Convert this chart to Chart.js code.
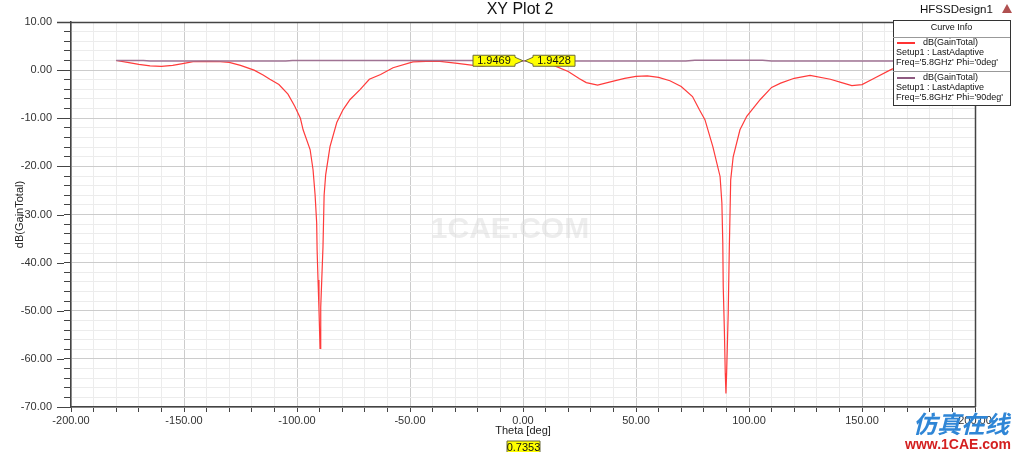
<!DOCTYPE html>
<html>
<head>
<meta charset="utf-8">
<title>XY Plot 2</title>
<script src="https://cdn.jsdelivr.net/npm/chart.js@4"></script>
<style>
    html, body { margin: 0; padding: 0; background: #fff; }
    #wrap { width: 1024px; height: 452px; position: relative; }
</style>
</head>
<body>
<div id="wrap"><canvas id="xyPlot"></canvas></div>
<script>
// Phi = 0deg curve (red)
const thetaPhi0 = [-180, -175, -170, -165, -160, -155, -150, -146, -140, -134, -130, -125, -119, -115, -112, -108, -104, -101, -98.5, -97.3, -94.2, -92.9, -92, -91.3, -91.1, -90.7, -90.3, -89.8, -89.5, -88.5, -88, -87.3, -85.4, -82.4, -79.6, -76.5, -72, -68, -63, -57.5, -48.7, -40, -36.7, -29, -22, -18, -14.6, -8, -4.4, 0,
    5, 10, 13, 20, 25, 28, 33, 40, 45, 50, 55, 60, 65, 70, 75, 78, 80.5, 84, 87.2, 88, 88.4, 88.6, 89.1, 89.5, 89.8, 90.1, 90.8, 91.3, 91.9, 93, 96, 99, 105, 110, 114, 120, 127, 136, 141, 145.5, 150, 155, 163, 170, 175, 180];
const gainPhi0 = [2.0, 1.6, 1.2, 0.9, 0.8, 1.0, 1.4, 1.75, 1.8, 1.75, 1.6, 1.0, 0.0, -1.0, -1.9, -3.0, -5.0, -7.5, -10.0, -12.4, -16.5, -20.7, -25.9, -31.7, -37.4, -43.6, -49.3, -57.8, -49.3, -36.7, -26.0, -21.7, -15.9, -10.9, -8.2, -6.1, -4.0, -1.9, -0.9, 0.5, 1.7, 1.85, 1.8, 1.4, 1.0, 0.85, 1.1, 1.7, 2.05, 1.9469,
    1.9, 1.4, 1.1, -0.3, -1.8, -2.6, -3.1, -2.3, -1.7, -1.3, -1.2, -1.5, -2.2, -3.4, -5.5, -8.2, -10.3, -15.9, -22.1, -27.6, -35.9, -45.0, -54.0, -63.0, -67.2, -63.0, -50.5, -36.7, -22.8, -18.0, -12.4, -9.6, -6.1, -3.6, -2.7, -1.7, -1.1, -1.9, -2.6, -3.2, -3.0, -1.8, 0.15, 1.3, 1.8, 2.0];

// Phi = 90deg curve (purple)
const thetaPhi90 = [-180, -168, -165, -140, -105, -102, -60, -5, 0, 5, 40, 72, 76, 106, 110, 150, 180];
const gainPhi90 = [2.02, 2.02, 1.9, 1.9, 1.9, 2.0, 2.0, 2.0, 1.9428, 1.88, 1.88, 1.88, 2.05, 2.05, 1.88, 1.88, 1.9];

// axis ticks
const xMin = -200, xMax = 200, xStep = 10, xMajor = 50;
const yMin = -70, yMax = 10, yStep = 2, yMajor = 10;

// marker readouts shown on the plot
const markerTheta = 0;
const markerLeft = '1.9469';
const markerRight = '1.9428';
const markerX = '0.7353';

const legendEntries = [
    { color: '#ff3333', lines: ['dB(GainTotal)', 'Setup1 : LastAdaptive', "Freq='5.8GHz' Phi='0deg'"] },
    { color: '#8e5a80', lines: ['dB(GainTotal)', 'Setup1 : LastAdaptive', "Freq='5.8GHz' Phi='90deg'"] }
];

const toPoints = (xs, ys) => xs.map((x, i) => ({ x: x, y: ys[i] }));
const FONT = '"Liberation Sans", Arial, sans-serif';

function yellowTag(ctx, x, y, w, h, text, arrow) {
    // arrow: 'right' tip at x+w+8, 'left' tip at x-8, null none
    ctx.beginPath();
    ctx.moveTo(x, y);
    ctx.lineTo(x + w, y);
    if (arrow === 'right') { ctx.lineTo(x + w, y + 2); ctx.lineTo(x + w + 8, y + h / 2); ctx.lineTo(x + w, y + h - 2); }
    ctx.lineTo(x + w, y + h);
    ctx.lineTo(x, y + h);
    if (arrow === 'left') { ctx.lineTo(x, y + h - 2); ctx.lineTo(x - 8, y + h / 2); ctx.lineTo(x, y + 2); }
    ctx.closePath();
    ctx.fillStyle = '#ffff00';
    ctx.fill();
    ctx.strokeStyle = '#6b6b3a';
    ctx.lineWidth = 1;
    ctx.stroke();
    ctx.fillStyle = '#111';
    ctx.font = '11px ' + FONT;
    ctx.textAlign = 'center';
    ctx.textBaseline = 'middle';
    ctx.fillText(text, x + w / 2, y + h / 2 + 0.5);
}

const decorPlugin = {
    id: 'decor',
    beforeDatasetsDraw(chart) {
        const ctx = chart.ctx;
        ctx.save();
        // faint watermark in the plot
        ctx.font = 'bold 30px ' + FONT;
        ctx.textAlign = 'center';
        ctx.textBaseline = 'middle';
        ctx.fillStyle = 'rgba(215,215,215,0.45)';
        ctx.fillText('1CAE.COM', 510, 230);
        ctx.restore();
    },
    afterDraw(chart) {
        const ctx = chart.ctx;
        const a = chart.chartArea;
        const xs = chart.scales.x, ys = chart.scales.y;
        ctx.save();

        // frame
        ctx.strokeStyle = '#444';
        ctx.lineWidth = 1.5;
        ctx.beginPath();
        ctx.moveTo(a.left - 14, a.top + 0.5);
        ctx.lineTo(a.right + 0.5, a.top + 0.5);
        ctx.lineTo(a.right + 0.5, a.bottom);
        ctx.stroke();

        // longer ticks at the labelled y values
        ctx.lineWidth = 1;
        ctx.beginPath();
        for (let v = yMin; v <= yMax; v += yMajor) {
            const y = Math.round(ys.getPixelForValue(v)) + 0.5;
            ctx.moveTo(a.left - 14, y);
            ctx.lineTo(a.left - 7, y);
        }
        ctx.stroke();

        // axis titles
        ctx.fillStyle = '#222';
        ctx.font = '11px ' + FONT;
        ctx.textAlign = 'center';
        ctx.textBaseline = 'middle';
        ctx.fillText('Theta [deg]', xs.getPixelForValue(0), 431);
        ctx.save();
        ctx.translate(20, (a.top + a.bottom) / 2);
        ctx.rotate(-Math.PI / 2);
        ctx.fillText('dB(GainTotal)', 0, 0);
        ctx.restore();

        // title
        ctx.fillStyle = '#111';
        ctx.font = '16px ' + FONT;
        ctx.fillText('XY Plot 2', 520, 10);

        ctx.font = '11.5px ' + FONT;
        ctx.textAlign = 'left';
        ctx.fillText('HFSSDesign1', 920, 10);
        // small warning triangle
        ctx.fillStyle = '#b05050';
        ctx.beginPath();
        ctx.moveTo(1007, 4); ctx.lineTo(1012, 13); ctx.lineTo(1002, 13); ctx.closePath();
        ctx.fill();

        // marker readouts at theta = 0
        const px = xs.getPixelForValue(markerTheta);
        const py = ys.getPixelForValue(parseFloat(markerLeft));
        yellowTag(ctx, px - 50, py - 5.5, 42, 11, markerLeft, 'right');
        yellowTag(ctx, px + 10, py - 5.5, 42, 11, markerRight, 'left');
        yellowTag(ctx, px - 16, 441, 33, 12, markerX, null);

        // curve info box
        const bx = 893, by = 20, bw = 117, bh = 85;
        ctx.fillStyle = '#fff';
        ctx.fillRect(bx, by, bw, bh);
        ctx.strokeStyle = '#333';
        ctx.lineWidth = 1;
        ctx.strokeRect(bx + 0.5, by + 0.5, bw, bh);
        ctx.fillStyle = '#111';
        ctx.font = '9px ' + FONT;
        ctx.textAlign = 'center';
        ctx.fillText('Curve Info', bx + bw / 2, 28);
        ctx.strokeStyle = '#999';
        ctx.beginPath();
        ctx.moveTo(bx, 37.5); ctx.lineTo(bx + bw, 37.5);
        ctx.moveTo(bx, 71.5); ctx.lineTo(bx + bw, 71.5);
        ctx.stroke();
        legendEntries.forEach((e, i) => {
            const top = 43 + i * 35;
            ctx.strokeStyle = e.color;
            ctx.lineWidth = 2;
            ctx.beginPath();
            ctx.moveTo(bx + 4, top); ctx.lineTo(bx + 22, top);
            ctx.stroke();
            ctx.fillStyle = '#111';
            ctx.textAlign = 'left';
            ctx.fillText(e.lines[0], bx + 30, top);
            ctx.fillText(e.lines[1], bx + 3, top + 10);
            ctx.fillText(e.lines[2], bx + 3, top + 19.5);
        });

        // site logo in the corner
        ctx.font = 'italic bold 24px "Noto Sans CJK SC", sans-serif';
        ctx.fillStyle = '#2f86d6';
        ctx.textAlign = 'left';
        ctx.fillText('仿真在线', 913, 424);
        ctx.font = 'bold 14px ' + FONT;
        ctx.fillStyle = '#d42020';
        ctx.fillText('www.1CAE.com', 905, 445);
        ctx.restore();
    }
};

const ctx = document.getElementById('xyPlot').getContext('2d');
const xyPlot = new Chart(ctx, {
    type: 'line',
    data: {
        datasets: [
            {
                label: "Phi='90deg'",
                data: toPoints(thetaPhi90, gainPhi90),
                borderColor: '#a07394',
                borderWidth: 1.5,
                pointRadius: 0,
                tension: 0
            },
            {
                label: "Phi='0deg'",
                data: toPoints(thetaPhi0, gainPhi0),
                borderColor: '#ff3b3b',
                borderWidth: 1.2,
                pointRadius: 0,
                tension: 0
            }
        ]
    },
    options: {
        responsive: true,
        maintainAspectRatio: false,
        animation: false,
        layout: { padding: { left: 0, right: 49, top: 22, bottom: 0 } },
        plugins: {
            legend: { display: false },
            tooltip: { enabled: false }
        },
        scales: {
            x: {
                type: 'linear',
                min: xMin,
                max: xMax,
                afterFit(scale) { scale.height = 45; },
                ticks: {
                    stepSize: xStep,
                    autoSkip: false,
                    maxRotation: 0,
                    padding: 2,
                    color: '#333',
                    font: { family: FONT, size: 11 },
                    callback: v => (v % xMajor === 0 ? v.toFixed(2) : '')
                },
                grid: {
                    color: c => (c.tick && c.tick.value % xMajor === 0 ? '#cccccc' : '#ececec'),
                    tickColor: '#444',
                    tickLength: 5
                },
                border: { display: true, color: '#444', width: 1.5 }
            },
            y: {
                min: yMin,
                max: yMax,
                afterFit(scale) { scale.width = 71; },
                ticks: {
                    stepSize: yStep,
                    autoSkip: false,
                    padding: 12,
                    color: '#333',
                    font: { family: FONT, size: 11 },
                    callback: v => (v % yMajor === 0 ? v.toFixed(2) : '')
                },
                grid: {
                    color: c => (c.tick && c.tick.value % yMajor === 0 ? '#cccccc' : '#ececec'),
                    tickColor: '#444',
                    tickLength: 7
                },
                border: { display: true, color: '#444', width: 1.5 }
            }
        }
    },
    plugins: [decorPlugin]
});
</script>
</body>
</html>
